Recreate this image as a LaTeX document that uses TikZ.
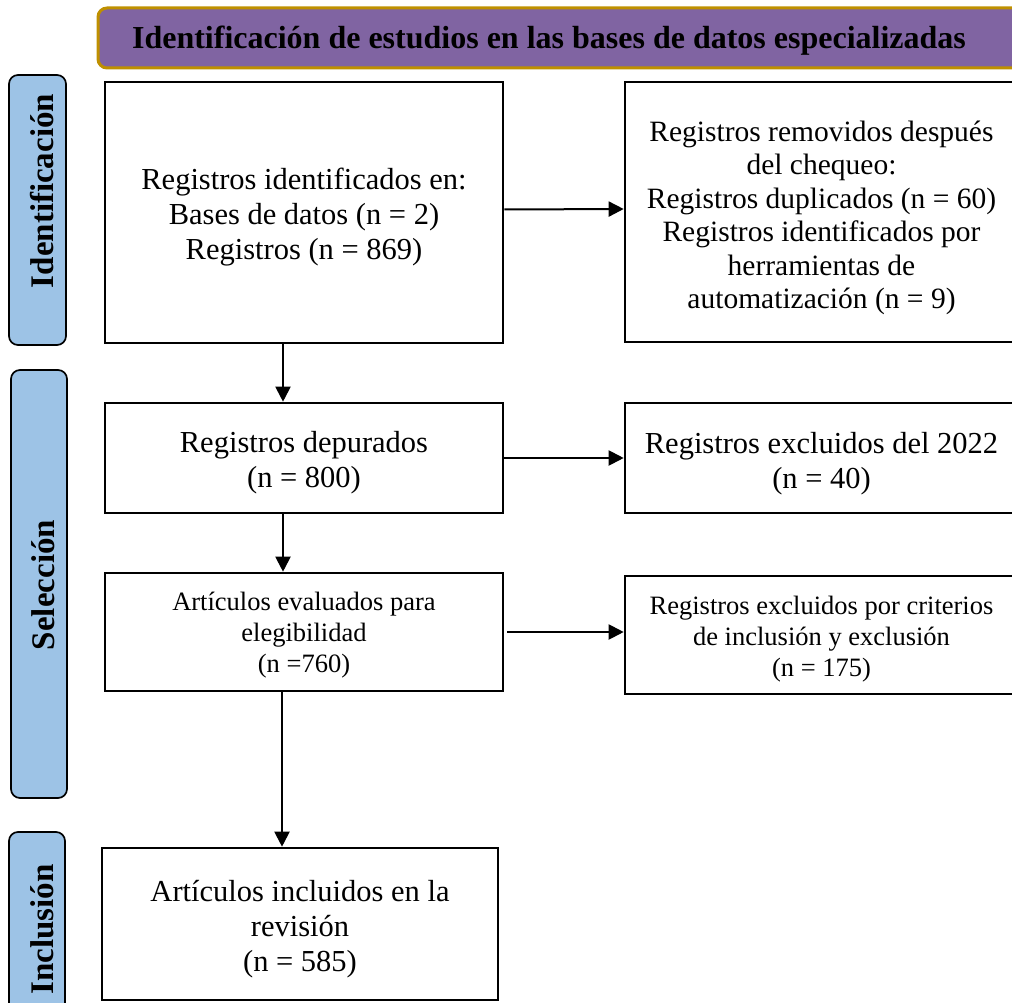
\documentclass[tikz,border=0pt]{standalone}
\usepackage{fontspec}
\setmainfont{Liberation Serif}
\usetikzlibrary{arrows.meta}
\definecolor{hdrfill}{HTML}{8064A2}
\definecolor{hdrline}{HTML}{BF9000}
\definecolor{sidefill}{HTML}{9DC3E6}
\newcommand{\liftby}[1]{\rule{0pt}{#1}}
\begin{document}
\begin{tikzpicture}[x=1pt,y=-1pt,
  box/.style={draw=black,line width=2.6pt,inner sep=0pt,align=center,fill=white},
  bigtxt/.style={font=\fontsize{30.5}{35}\selectfont},
  midtxt/.style={font=\fontsize{29.5}{33.5}\selectfont},
  smalltxt/.style={font=\fontsize{26.5}{31}\selectfont},
  sidebox/.style={draw=black,line width=1.7pt,fill=sidefill,rounded corners=9pt,inner sep=0pt},
  sidetxt/.style={rotate=90,anchor=base,font=\fontsize{33}{38}\selectfont\bfseries,inner sep=0pt},
  hdrbox/.style={draw=hdrline,line width=3pt,fill=hdrfill,rounded corners=9pt,inner sep=0pt},
  arr/.style={line width=2pt,-{Triangle[length=15pt,width=15pt]}}]
\useasboundingbox (0,0) rectangle (1012,1003);
\clip (0,0) rectangle (1012,1003);

% header
\node[hdrbox,minimum width=930pt,minimum height=60pt] (hdr) at (563,38) {};
\node[font=\fontsize{32}{36}\selectfont\bfseries,inner sep=0pt] (hdrtxt) at (549,41) {Identificación de estudios en las bases de datos especializadas};

% side labels
\node[sidebox,minimum width=57pt,minimum height=270pt] (sidA) at (37.5,210) {};
\node[sidetxt] (sidAt) at (53,191) {Identificación};
\node[sidebox,minimum width=56pt,minimum height=428pt] (sidB) at (39,584) {};
\node[sidetxt] (sidBt) at (54,585) {Selección};
\node[sidebox,minimum width=56pt,minimum height=196pt] (sidC) at (37,930) {};
\node[sidetxt] (sidCt) at (53,929.5) {Inclusión};

% boxes
\node[box,bigtxt,minimum width=398pt,minimum height=261pt] (reg) at (304,212.5)
  {\liftby{31pt}Registros identificados en:\\Bases de datos (n = 2)\\Registros (n = 869)};
\node[box,midtxt,minimum width=393pt,minimum height=260pt] (rem) at (821.5,212)
  {\liftby{32pt}Registros removidos después\\del chequeo:\\Registros duplicados (n = 60)\\Registros identificados por\\herramientas de\\automatización (n = 9)};
\node[box,bigtxt,minimum width=398pt,minimum height=110pt] (dep) at (304,458)
  {\liftby{31pt}Registros depurados\\(n = 800)};
\node[box,bigtxt,minimum width=393pt,minimum height=110pt] (exc) at (821.5,458)
  {\liftby{32pt}Registros excluidos del 2022\\(n = 40)};
\node[box,smalltxt,minimum width=398pt,minimum height=118pt] (eval) at (304,632)
  {\liftby{24pt}Artículos evaluados para\\elegibilidad\\(n =760)};
\node[box,smalltxt,minimum width=393pt,minimum height=118pt] (crit) at (821.5,635)
  {\liftby{27pt}Registros excluidos por criterios\\de inclusión y exclusión\\(n = 175)};
\node[box,bigtxt,minimum width=396pt,minimum height=152pt] (inc) at (300,924)
  {\liftby{31pt}Artículos incluidos en la\\revisión\\(n = 585)};

% connectors
\coordinate (ax) at (283,0);
\coordinate (bx) at (282,0);
\draw[arr] ([yshift=3pt]reg.east) -- ([yshift=3pt]rem.west);
\draw[arr] (reg.south -| ax) -- (dep.north -| ax);
\draw[arr] (dep.east) -- (exc.west);
\draw[arr] (dep.south -| ax) -- (eval.north -| ax);
\draw[arr] ([xshift=3pt]eval.east) -- (crit.west |- eval.east);
\draw[arr] (eval.south -| bx) -- (inc.north -| bx);
\end{tikzpicture}
\end{document}
